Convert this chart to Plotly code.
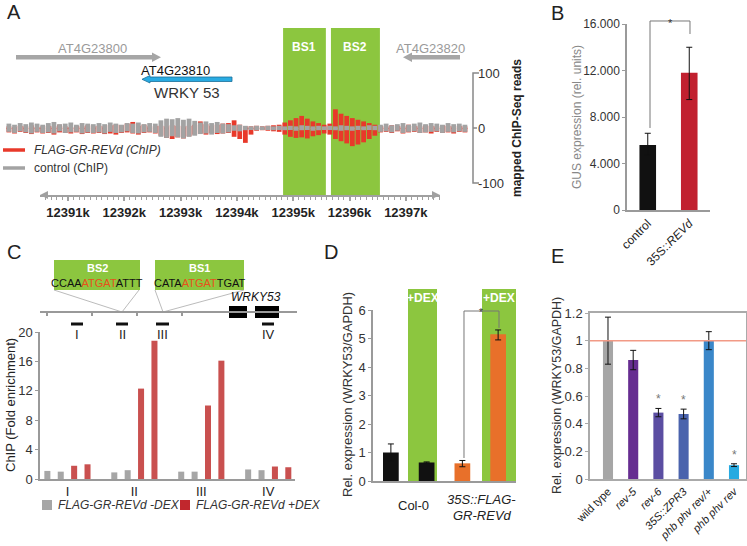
import plotly.graph_objects as go

W, H = 747, 546
def PX(x): return x / W
def PY(y): return 1 - y / H

FONT = 'Liberation Sans, Arial, sans-serif'
GREEN = '#8cc63f'
AXIS = '#9a9a9a'
RED_A = '#e8392a'
GRAY_A = '#a3a3a3'

# ---------------- data ----------------
# Panel A: ChIP-seq coverage (reads), 0.1 kb bins starting at 12389.95k
a_bin_start = 12389.95
a_bin_kb = 0.1
a_red_up = [3, 2, 4, 3, 5, 2, 3, 4, 3, 6, 3, 2, 4, 3, 5, 3,
            4, 3, 5, 6, 5, 8, 11, 4, 6, 3, 4,
            4, 3, 5, 4, 3, 4, 6,
            12, 7, 4, 6, 8, 9,
            14, 6, 3,
            3, 4, 3, 4, 5, 6,
            10, 14, 18, 22, 17, 12, 9, 6,
            8, 34, 26, 22, 18, 15, 12, 9, 6,
            4, 3, 5, 4, 3, 6, 4, 3, 5, 4, 3, 5, 4, 3, 4, 3]
a_red_down = [-8, -10, -7, -9, -11, -8, -10, -9, -12, -8, -9, -10, -8, -11, -9, -10,
              -9, -11, -10, -12, -9, -8, -10, -12, -9, -8, -10,
              -14, -18, -20, -17, -19, -15, -12,
              -10, -12, -9, -11, -10, -9,
              -16, -20, -27,
              -12, -5, -4, -5, -6, -7,
              -12, -16, -18, -17, -19, -15, -13, -10,
              -12, -20, -24, -28, -33, -30, -26, -20, -14,
              -8, -7, -9, -6, -10, -8, -7, -9, -8, -10, -7, -9, -8, -10, -7, -8]
a_gray_up = [8, 6, 9, 7, 10, 8, 6, 9, 11, 7, 8, 10, 6, 9, 8, 7,
             9, 7, 10, 8, 6, 9, 8, 10, 7, 9, 8,
             14, 17, 16, 18, 15, 17, 13,
             10, 12, 9, 11, 8, 7,
             5, 6, 4,
             3, 4, 3, 4, 3, 4,
             3, 4, 3, 5, 4, 3, 4, 3,
             4, 3, 5, 4, 3, 4, 3, 5, 4,
             6, 8, 5, 7, 9, 6, 8, 10, 7, 9, 8, 6, 9, 7, 8, 6]
a_gray_down = [-7, -9, -6, -8, -10, -7, -9, -8, -10, -6, -9, -8, -7, -10, -8, -9,
               -8, -10, -7, -9, -8, -6, -9, -10, -8, -7, -9,
               -16, -18, -15, -17, -19, -16, -14,
               -11, -10, -12, -9, -10, -8,
               -5, -6, -4,
               -3, -4, -3, -3, -4, -3,
               -4, -3, -5, -4, -3, -5, -4, -3,
               -3, -4, -5, -4, -5, -3, -4, -3, -4,
               -7, -6, -8, -5, -9, -7, -6, -9, -8, -7, -6, -9, -7, -8, -6, -7]
a_ruler_ticks = [12391, 12392, 12393, 12394, 12395, 12396, 12397]
a_ruler_labels = ['12391k', '12392k', '12393k', '12394k', '12395k', '12396k', '12397k']
a_read_ticks = [-100, 0, 100]
a_bs_names = ['BS1', 'BS2']
a_bs_start = [12394.82, 12395.67]
a_bs_end = [12395.58, 12396.54]

# Panel B
b_labels = ['control', '35S::<i>REVd</i>']
b_values = [5600, 11800]
b_err_plus = [1000, 2200]
b_err_minus = [900, 2300]
b_colors = ['#111111', '#c1202f']
b_ticks = [0, 4000, 8000, 12000, 16000]
b_ticktext = ['0', '4.000', '8.000', '12.000', '16.000']

# Panel C
c_groups = ['I', 'II', 'III', 'IV']
c_minus_dex = [[1.1, 1.0], [0.9, 1.2], [1.0, 1.0], [1.3, 1.2]]
c_plus_dex = [[1.8, 2.0], [12.3, 18.8], [10.0, 16.1], [1.7, 1.6]]

# Panel D
d_values = [1.0, 0.65, 0.62, 5.15]
d_err_plus = [0.3, 0.02, 0.1, 0.15]
d_err_minus = [0.3, 0.02, 0.12, 0.2]
d_colors = ['#111111', '#111111', '#e8702a', '#e8702a']

# Panel E
e_labels = ['wild type', '<i>rev-5</i>', '<i>rev-6</i>', '<i>35S::ZPR3</i>',
            '<i>phb phv rev/+</i>', '<i>phb phv rev</i>']
e_values = [1.0, 0.86, 0.48, 0.47, 1.0, 0.10]
e_err = [0.17, 0.07, 0.03, 0.035, 0.065, 0.01]
e_colors = ['#a6a6a6', '#662d91', '#5b4ea2', '#4a63ad', '#3a87c9', '#27aae1']
e_signif = [False, False, True, True, False, True]

# ---------------- figure ----------------
fig = go.Figure()

a_x = [a_bin_start + i * a_bin_kb for i in range(len(a_red_up))]
for ys, col in [(a_red_up, RED_A), (a_red_down, RED_A), (a_gray_up, GRAY_A), (a_gray_down, GRAY_A)]:
    fig.add_trace(go.Bar(x=a_x, y=ys, width=a_bin_kb * 0.85, marker=dict(color=col, line=dict(width=0)),
                         xaxis='x', yaxis='y', showlegend=False, hoverinfo='skip'))
# anchor trace for the genomic ruler axis
fig.add_trace(go.Scatter(x=[a_ruler_ticks[0]], y=[0], xaxis='x2', yaxis='y', mode='markers',
                         marker=dict(opacity=0), showlegend=False, hoverinfo='skip'))

err = lambda p, m: dict(type='data', symmetric=False, array=p, arrayminus=m,
                         color='#111', thickness=1, width=3)

fig.add_trace(go.Bar(x=[0, 1], y=b_values, width=0.4, marker=dict(color=b_colors, line=dict(width=0)),
                     error_y=err(b_err_plus, b_err_minus), xaxis='x3', yaxis='y3', showlegend=False))

cx_minus, cy_minus, cx_plus, cy_plus = [], [], [], []
for g in range(len(c_groups)):
    for r in range(2):
        cx_minus.append(5 * g + r); cy_minus.append(c_minus_dex[g][r])
        cx_plus.append(5 * g + 2 + r); cy_plus.append(c_plus_dex[g][r])
fig.add_trace(go.Bar(x=cx_minus, y=cy_minus, width=0.45, marker=dict(color='#a6a6a6', line=dict(width=0)),
                     xaxis='x4', yaxis='y4', showlegend=False))
fig.add_trace(go.Bar(x=cx_plus, y=cy_plus, width=0.45, marker=dict(color='#c9504f', line=dict(width=0)),
                     xaxis='x4', yaxis='y4', showlegend=False))

fig.add_trace(go.Bar(x=list(range(len(d_values))), y=d_values, width=0.44,
                     marker=dict(color=d_colors, line=dict(width=0)),
                     error_y=err(d_err_plus, d_err_minus), xaxis='x5', yaxis='y5', showlegend=False))

fig.add_trace(go.Bar(x=list(range(len(e_values))), y=e_values, width=0.4,
                     marker=dict(color=e_colors, line=dict(width=0)),
                     error_y=err(e_err, e_err), xaxis='x6', yaxis='y6', showlegend=False))

shapes = []
ann = []

def pline(pts, color, width):
    path = 'M ' + ' L '.join(f'{PX(x):.5f},{PY(y):.5f}' for x, y in pts)
    shapes.append(dict(type='path', path=path, xref='paper', yref='paper',
                       line=dict(color=color, width=width)))

def ppoly(pts, fill, lc=None, lw=0):
    path = 'M ' + ' L '.join(f'{PX(x):.5f},{PY(y):.5f}' for x, y in pts) + ' Z'
    shapes.append(dict(type='path', path=path, xref='paper', yref='paper', fillcolor=fill,
                       line=dict(color=lc or fill, width=lw), layer='below'))

def prect(x0, y0, x1, y1, fill):
    shapes.append(dict(type='rect', xref='paper', yref='paper', x0=PX(x0), x1=PX(x1),
                       y0=PY(y1), y1=PY(y0), fillcolor=fill, line=dict(width=0), layer='below'))

def text(x, y, t, size=13, color='#222', xanchor='center', angle=0, family=FONT):
    ann.append(dict(x=PX(x), y=PY(y), xref='paper', yref='paper', text=t, showarrow=False,
                    xanchor=xanchor, yanchor='middle', textangle=angle,
                    font=dict(size=size, color=color, family=family)))

# ---- Panel A decorations ----
for name, s, e in zip(a_bs_names, a_bs_start, a_bs_end):
    shapes.append(dict(type='rect', xref='x', yref='paper', x0=s, x1=e, y0=PY(195), y1=PY(28),
                       fillcolor=GREEN, line=dict(width=0), layer='below'))
    ann.append(dict(x=(s + e) / 2, y=PY(38), xref='x', yref='paper', text=f'<b>{name}</b>',
                    showarrow=False, font=dict(size=12, color='white', family=FONT)))
ppoly([(16, 55), (152, 55), (152, 52.5), (161, 57.3), (152, 62), (152, 59.5), (16, 59.5)], '#a6a6a6')
ppoly([(460, 55), (412, 55), (412, 52.5), (403, 57.3), (412, 62), (412, 59.5), (460, 59.5)], '#a6a6a6')
ppoly([(232, 77), (150, 77), (150, 75.5), (142, 79.3), (150, 83), (150, 81.5), (232, 81.5)],
      '#29abe2', '#1a6f99', 0.8)
text(92, 48, 'AT4G23800', 13, '#9a9a9a')
text(431, 48, 'AT4G23820', 13, '#9a9a9a')
text(175, 71, 'AT4G23810', 13, '#111')
text(187, 92, 'WRKY 53', 15, '#333')
# read-scale bracket
pline([(479, 73), (473, 73), (473, 183), (479, 183)], '#888', 1.5)
pline([(473, 128), (477, 128)], '#888', 1.5)
text(517, 128, '<b>mapped ChIP-Seq reads</b>', 12, '#222', angle=-90)
# ruler arrowheads
for xa, dx in [(40, 9), (440, -9)]:
    ann.append(dict(x=PX(xa), y=PY(195), xref='paper', yref='paper', ax=dx, ay=0, text='',
                    showarrow=True, arrowhead=2, arrowsize=1, arrowwidth=1.6, arrowcolor='#a0a0a0'))
# legend A
pline([(3, 150), (25, 150)], RED_A, 3.5)
pline([(3, 168), (25, 168)], GRAY_A, 3.5)
text(32, 150, '<i>FLAG-GR-REVd (ChIP)</i>', 12, '#333', 'left')
text(32, 168, 'control (ChIP)', 12, '#333', 'left')

# ---- Panel B decorations ----
pline([(650, 128), (650, 21), (690, 21), (690, 34)], '#777', 1)
text(670, 23, '*', 11, '#333')
text(577, 117, 'GUS expression (rel. units)', 12, '#888', angle=-90)

# ---- Panel C decorations ----
prect(54, 260, 140, 290, GREEN)
prect(155, 260, 244, 290, GREEN)
text(97, 268, '<b>BS2</b>', 11, 'white')
text(199.5, 268, '<b>BS1</b>', 11, 'white')
text(97, 283, "CCAA<span style='color:#e8501c'>ATGAT</span>ATTT", 11, '#111')
text(199.5, 283, "CATA<span style='color:#e8501c'>ATGAT</span>TGAT", 11, '#111')
pline([(54, 290), (122, 312), (139, 290)], '#aaa', 0.8)
pline([(155, 290), (163, 312), (244, 290)], '#aaa', 0.8)
pline([(40, 312), (297, 312)], '#999', 2)
for tx in [47, 92, 137, 182]:
    pline([(tx, 312), (tx, 316)], '#999', 2)
prect(229, 306, 247, 318, '#000')
prect(255, 306, 279, 318, '#000')
text(256, 297, '<i>WRKY53</i>', 12, '#111')
for (x0, x1), lab in zip([(71, 83), (116, 128), (156, 169), (262, 274)], c_groups):
    pline([(x0, 324), (x1, 324)], '#111', 3)
    text((x0 + x1) / 2, 334, lab, 13, '#222')
text(10, 405, 'ChIP (Fold enrichment)', 13, '#222', angle=-90)
prect(42, 500, 52, 510, '#a6a6a6')
prect(180, 500, 190, 510, '#c1272d')
text(56, 505, '<i>FLAG-GR-REVd -DEX</i>', 12, '#333', 'left')
text(194, 505, '<i>FLAG-GR-REVd +DEX</i>', 12, '#333', 'left')

# ---- Panel D decorations ----
prect(408, 289, 437, 481, GREEN)
prect(482, 289, 516, 481, GREEN)
text(422.5, 298, '<b>+DEX</b>', 12, 'white')
text(499, 298, '<b>+DEX</b>', 12, 'white')
pline([(464, 458), (464, 311), (499, 311), (499, 328)], '#777', 1)
text(481, 312, '*', 10, '#333')
text(347, 395, 'Rel. expression (WRKY53/GAPDH)', 13, '#333', angle=-90)
text(413, 505, 'Col-0', 13, '#222')
text(481, 499, '<i>35S::FLAG-</i>', 13, '#222')
text(482, 515, '<i>GR-REVd</i>', 13, '#222')

# ---- Panel E decorations ----
shapes.append(dict(type='line', xref='paper', yref='y6', x0=PX(590), x1=PX(746), y0=1, y1=1,
                   line=dict(color='#f29a86', width=1.5)))
for i, s in enumerate(e_signif):
    if s:
        ann.append(dict(x=i, y=e_values[i] + e_err[i], xref='x6', yref='y6', text='*', yshift=9,
                        showarrow=False, font=dict(size=12, color='#777', family=FONT)))
text(557, 396, 'Rel. expression (WRKY53/GAPDH)', 12.5, '#333', angle=-90)

# ---- panel letters ----
for lab, x, y in [('A', 14, 12), ('B', 557, 13), ('C', 14, 252), ('D', 331, 252), ('E', 557, 256)]:
    text(x, y, lab, 20, '#222')

ax_common = dict(showgrid=False, zeroline=False, fixedrange=True, automargin=False)
fig.update_layout(
    template='none',
    width=W, height=H, margin=dict(l=0, r=0, t=0, b=0, pad=0, autoexpand=False),
    paper_bgcolor='white', plot_bgcolor='rgba(0,0,0,0)',
    barmode='overlay', showlegend=False,
    font=dict(family=FONT, color='#222'),
    shapes=shapes, annotations=ann,
    xaxis=dict(domain=[0, PX(470)], range=[12389.792, 12398.14], visible=False, anchor='y', **ax_common),
    yaxis=dict(domain=[PY(195), PY(20)], range=[-121.8, 196.4], anchor='free', position=PX(473),
               side='right', showline=False, ticks='', tickvals=a_read_ticks,
               ticktext=[str(v) for v in a_read_ticks], ticklabelstandoff=4,
               tickfont=dict(size=13, color='#333'), **ax_common),
    xaxis2=dict(domain=[PX(40), PX(440)], range=[12390.503, 12397.607], anchor='y',
                showline=True, linecolor='#a0a0a0', linewidth=2,
                ticks='outside', ticklen=4, tickwidth=1.5, tickcolor='#a0a0a0',
                tickmode='array', tickvals=a_ruler_ticks,
                ticktext=[f'<b>{t}</b>' for t in a_ruler_labels],
                tickfont=dict(size=13, color='#222'),
                minor=dict(ticks='outside', ticklen=3, tickwidth=1, tickcolor='#a0a0a0',
                           tickmode='linear', tick0=12391, dtick=0.1, showgrid=False),
                **ax_common),
    xaxis3=dict(domain=[PX(627), PX(710)], range=[-0.5, 1.5], anchor='y3', showline=True,
                linecolor=AXIS, linewidth=1.5, tickvals=[0, 1], ticktext=b_labels, tickangle=-45,
                ticks='', tickfont=dict(size=12, color='#222'), **ax_common),
    yaxis3=dict(domain=[PY(210), PY(24)], range=[0, 16000], anchor='x3', showline=True,
                linecolor=AXIS, linewidth=1.5, tickvals=b_ticks, ticktext=b_ticktext,
                ticks='outside', ticklen=3, tickcolor=AXIS, tickfont=dict(size=12, color='#333'),
                **ax_common),
    xaxis4=dict(domain=[PX(40), PX(295)], range=[-0.55, 18.5], anchor='y4', showline=True,
                linecolor=AXIS, linewidth=1.5, tickvals=[1.5, 6.5, 11.5, 16.5], ticktext=c_groups,
                ticks='', tickfont=dict(size=13, color='#222'), **ax_common),
    yaxis4=dict(domain=[PY(479), PY(332)], range=[0, 20], dtick=4, anchor='x4', showline=True,
                linecolor=AXIS, linewidth=1.5, ticks='outside', ticklen=3, tickcolor=AXIS,
                tickfont=dict(size=13, color='#333'), **ax_common),
    xaxis5=dict(domain=[PX(373), PX(516)], range=[-0.5, 3.5], anchor='y5', showline=True,
                linecolor=AXIS, linewidth=1.5, showticklabels=False, ticks='', **ax_common),
    yaxis5=dict(domain=[PY(481), PY(310)], range=[0, 6], dtick=1, anchor='x5', showline=True,
                linecolor=AXIS, linewidth=1.5, ticks='outside', ticklen=3, tickcolor=AXIS,
                tickfont=dict(size=13, color='#333'), **ax_common),
    xaxis6=dict(domain=[PX(590), PX(746)], range=[-0.714, 5.476], anchor='y6', showline=True,
                mirror=True, linecolor='#aaa', linewidth=1.5, tickvals=list(range(6)),
                ticktext=e_labels, tickangle=-45, ticks='', tickfont=dict(size=11, color='#222'),
                **ax_common),
    yaxis6=dict(domain=[PY(479), PY(313)], range=[0, 1.2], dtick=0.2, anchor='x6', showline=True,
                mirror=True, linecolor='#aaa', linewidth=1.5, ticks='outside', ticklen=3,
                tickcolor='#aaa', tickfont=dict(size=13, color='#333'), **ax_common),
)

fig.write_html('out.html', config={'displayModeBar': False},
               post_script="document.body.style.margin='0';document.body.style.padding='0';"
                           "document.documentElement.style.overflow='hidden';")
